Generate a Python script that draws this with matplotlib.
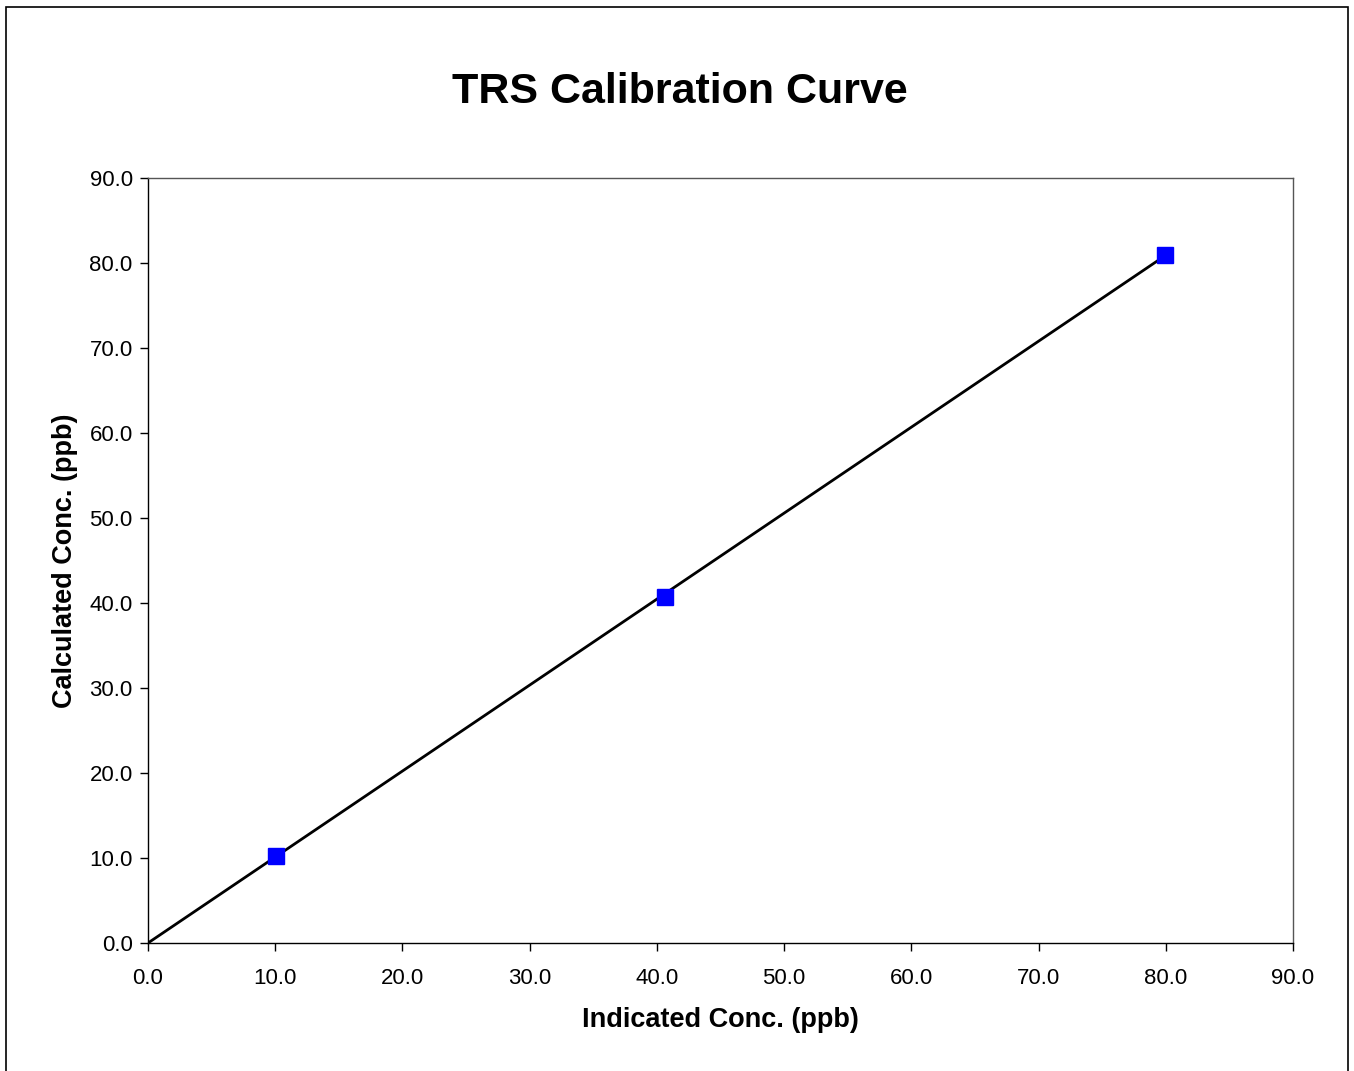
import numpy as np
import matplotlib.pyplot as plt
from matplotlib.patches import Rectangle

plt.rcParams['font.family'] = ['Liberation Sans', 'DejaVu Sans']

indicated = [10.1, 40.6, 79.9]
calculated = [10.2, 40.7, 81.0]

x_ticks = np.arange(0, 91, 10)
y_ticks = np.arange(0, 91, 10)

# trendline through origin
xs = np.array(indicated)
ys = np.array(calculated)
slope = (xs * ys).sum() / (xs * xs).sum()
line_x = np.array([0, xs.max()])

fig = plt.figure(figsize=(13.54, 10.71), dpi=100)
ax = fig.add_axes([148 / 1354, 1 - 943 / 1071, (1293 - 148) / 1354, (943 - 178) / 1071])

ax.plot(line_x, slope * line_x, color='black', lw=2, zorder=2)
ax.plot(indicated, calculated, ls='none', marker='s', ms=11,
        color='#0000ff', markeredgecolor='#0000ff', zorder=3)

ax.set_xlim(0, 90)
ax.set_ylim(0, 90)
ax.set_xticks(x_ticks)
ax.set_yticks(y_ticks)
ax.set_xticklabels([f'{v:.1f}' for v in x_ticks])
ax.set_yticklabels([f'{v:.1f}' for v in y_ticks])
ax.tick_params(direction='out', length=6, width=1, labelsize=16)
ax.tick_params(axis='x', pad=12)
ax.tick_params(axis='y', pad=5)
for s in ax.spines.values():
    s.set_linewidth(1)
    s.set_color('#555555')
ax.spines['left'].set_color('black')
ax.spines['bottom'].set_color('black')

ax.set_xlabel('Indicated Conc. (ppb)', fontsize=19.5, fontweight='bold', labelpad=13)
ax.set_ylabel('Calculated Conc. (ppb)', fontsize=19.5, fontweight='bold', labelpad=8)
fig.text(0.502, 1 - 92 / 1071, 'TRS Calibration Curve', fontsize=31, fontweight='bold',
         ha='center', va='center')

fig.patches.append(Rectangle((6 / 1354, -0.01), (1348 - 6) / 1354, 1.01 - 7 / 1071,
                             transform=fig.transFigure, fill=False, edgecolor='black', lw=1.2))

fig.savefig('out.png', dpi=100)
